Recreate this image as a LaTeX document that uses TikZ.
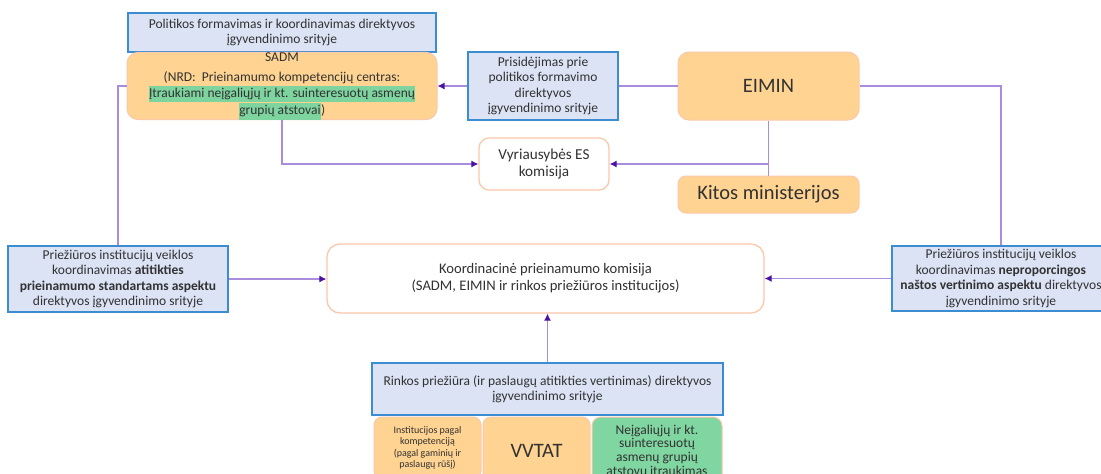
\documentclass[tikz,border=0pt]{standalone}
\usepackage{fontspec}
\setmainfont{Carlito}
\usetikzlibrary{arrows.meta}
\definecolor{bluefill}{RGB}{219,227,245}
\definecolor{blueline}{RGB}{60,140,210}
\definecolor{orfill}{RGB}{255,211,145}
\definecolor{orline}{RGB}{250,200,170}
\definecolor{grfill}{RGB}{128,214,160}
\definecolor{hlgreen}{RGB}{125,212,158}
\definecolor{conline}{RGB}{170,140,220}
\definecolor{arrowc}{RGB}{75,20,160}
\definecolor{txt}{RGB}{50,50,50}
\setlength{\fboxsep}{0.4pt}
\begin{document}
\begin{tikzpicture}[x=1pt,y=-1pt,
 base/.style={text=txt, align=center, inner sep=0pt, font=\fontsize{13.5}{15.5}\selectfont},
 bluebox/.style={base, draw=blueline, fill=bluefill, line width=1.4pt},
 orbox/.style={base, draw=orline, fill=orfill, line width=1pt, rounded corners=11pt},
 whbox/.style={base, draw=orline, fill=white, line width=1.3pt, rounded corners=11pt},
 grbox/.style={base, draw=orline, fill=grfill, line width=1pt, rounded corners=9pt},
 conn/.style={draw=conline, line width=1.1pt},
 arr/.style={conn, -{Latex[length=7pt,width=7pt,color=arrowc]}},
]
\useasboundingbox (0,0) rectangle (1101,474);
\fill[white] (0,0) rectangle (1101,474);
\begin{scope}
\clip (0,0) rectangle (1101,474);

\node[bluebox, minimum width=308pt, minimum height=39pt] (pol) at (282,32.5)
  {Politikos formavimas ir koordinavimas direktyvos\\ įgyvendinimo srityje};
\node[orbox, minimum width=310pt, minimum height=66pt] (sadm) at (282,86)
  {SADM\\[5pt]
   (NRD:\ \ Prieinamumo kompetencijų centras:\\
   \colorbox{hlgreen}{\strut Įtraukiami neįgaliųjų ir kt. suinteresuotų asmenų}\\
   \colorbox{hlgreen}{\strut grupių atstovai})};
\node[bluebox, minimum width=150pt, minimum height=68pt] (pris) at (543,86)
  {Prisidėjimas prie\\ politikos formavimo\\ direktyvos\\ įgyvendinimo srityje};
\node[orbox, minimum width=181pt, minimum height=68pt, font=\fontsize{20.5}{24}\selectfont] (eimin) at (768.5,86) {EIMIN};
\node[whbox, minimum width=130pt, minimum height=52pt, rounded corners=10pt, font=\fontsize{15.2}{16.5}\selectfont] (vyr) at (544,164)
  {Vyriausybės ES\\ komisija};
\node[orbox, minimum width=181pt, minimum height=37pt, rounded corners=8pt, font=\fontsize{20.5}{24}\selectfont] (kitos) at (768.5,194.5) {Kitos ministerijos};

\node[bluebox, minimum width=220pt, minimum height=66pt] (left) at (118,279)
  {Priežiūros institucijų veiklos\\ koordinavimas \textbf{atitikties}\\
   \textbf{prieinamumo standartams aspektu}\\ direktyvos įgyvendinimo srityje};
\node[whbox, minimum width=437pt, minimum height=69pt, rounded corners=13pt, font=\fontsize{14.6}{17}\selectfont] (koord) at (545.5,278.5)
  {Koordinacinė prieinamumo komisija\\ (SADM, EIMIN ir rinkos priežiūros institucijos)};
\node[bluebox, minimum width=218pt, minimum height=65pt] (right) at (1001,278.5)
  {Priežiūros institucijų veiklos\\ koordinavimas \textbf{neproporcingos}\\
   \textbf{naštos vertinimo aspektu} direktyvos\\ įgyvendinimo srityje};

\node[bluebox, minimum width=351pt, minimum height=52pt, font=\fontsize{13.5}{14.5}\selectfont] (rink) at (547.5,389)
  {Rinkos priežiūra (ir paslaugų atitikties vertinimas) direktyvos\\ įgyvendinimo srityje};
\node[orbox, minimum width=107pt, minimum height=62pt, rounded corners=8pt, font=\fontsize{10}{11.3}\selectfont] (inst) at (427.5,448)
  {Institucijos pagal\\ kompetenciją\\ (pagal gaminių ir\\ paslaugų rūšį)};
\node[orbox, minimum width=107pt, minimum height=68pt, rounded corners=8pt, font=\fontsize{20.5}{24}\selectfont] (vvtat) at (536.5,451) {VVTAT};
\node[grbox, minimum width=130pt, minimum height=68pt, font=\fontsize{13.5}{13.6}\selectfont] (neig) at (657,451)
  {Neįgaliųjų ir kt.\\ suinteresuotų\\ asmenų grupių\\ atstovų įtraukimas};

% connectors
\draw[conn] (sadm.west) -- (sadm.west -| left.north) -- (left.north);
\draw[conn] (eimin.west) -- (pris.east);
\draw[arr] (pris.west) -- (sadm.east);
\draw[conn] (eimin.south) -- (kitos.north);
\coordinate (j) at (eimin.south |- vyr.east);
\draw[arr] (j) -- (vyr.east);
\draw[arr] (sadm.south) |- (vyr.west);
\draw[conn] (eimin.east) -| (right.north);
\draw[arr] (left.east) -- (left.east -| koord.west);
\draw[arr] (right.west) -- (right.west -| koord.east);
\draw[arr] (rink.north) -- (rink.north |- koord.south);
\end{scope}
\end{tikzpicture}
\end{document}
